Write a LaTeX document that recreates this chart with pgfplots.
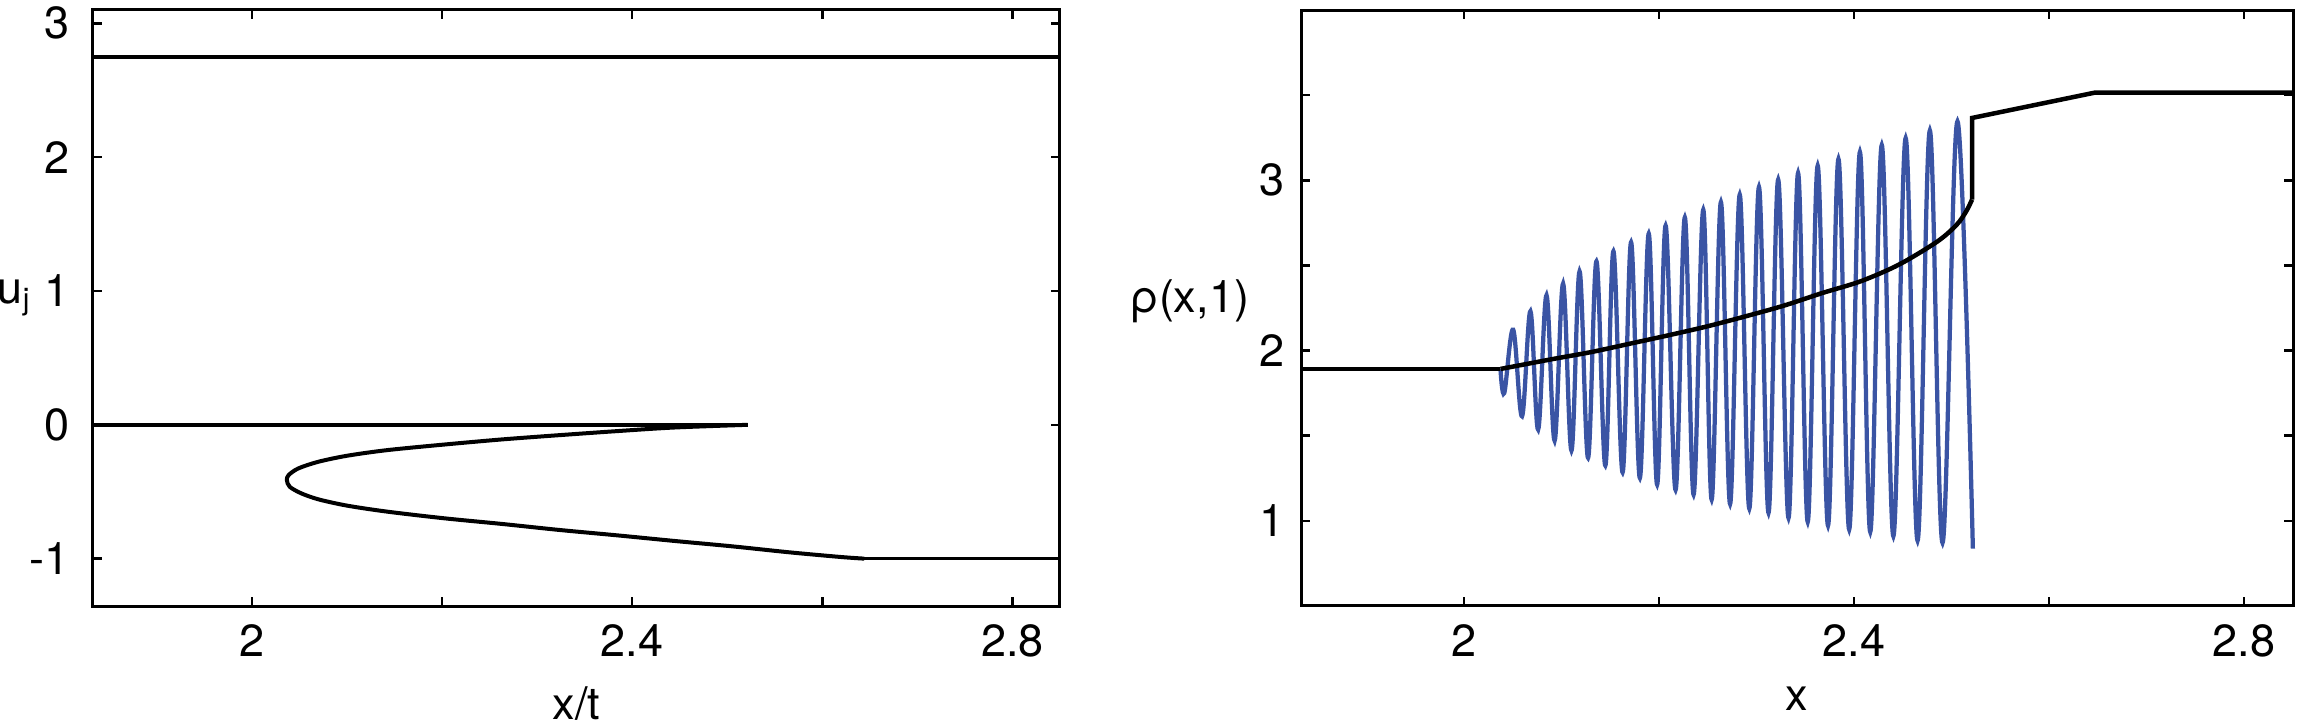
\documentclass[border=0pt]{standalone}
\usepackage{fontspec}
\setmainfont{TeX Gyre Heros}
\usepackage{pgfplots}
\pgfplotsset{compat=1.18}
\definecolor{oscblue}{HTML}{3A54A4}

\pgfplotsset{
  mat/.style={
    scale only axis, height=119.2pt,
    xmin=1.833, xmax=2.85,
    xtick={2,2.2,2.4,2.6,2.8}, xticklabels={2,,2.4,,2.8},
    tick align=inside, major tick length=1.8pt,
    axis line style={line width=0.6pt},
    every tick/.style={black, line width=0.5pt},
    every axis x label/.style={at={(rel axis cs:0.5,0)}, anchor=north, inner sep=0pt, yshift=-16pt},
    xticklabel style={yshift=-0.6pt},
  }
}

\begin{document}
\fontsize{9}{10.8}\selectfont
\begin{tikzpicture}
\path[use as bounding box] (-18.6pt,-23.4pt) rectangle (442.2pt,121.2pt);

% left: u_j against x/t
\begin{axis}[mat, at={(0pt,0pt)}, anchor=south west, width=193.4pt,
  ymin=-1.354, ymax=3.1,
  ytick={-1,0,1,2,3}, yticklabels={-1,0,1,2,3},
  yticklabel style={xshift=-1.5pt},
  xlabel={x/t}, ylabel={u\textsubscript{j}},
  every axis y label/.style={at={(rel axis cs:0,0.507)}, anchor=base east, inner sep=0pt, xshift=-12pt},
]
\addplot[black, line width=0.9pt] coordinates {(1.833,2.75) (2.85,2.75)};
\addplot[black, line width=0.7pt] coordinates {(1.833,0) (2.5215,0)};
\addplot[black, line width=0.8pt, smooth] coordinates {
  (2.5215,0) (2.4447,-0.020) (2.3843,-0.047) (2.3239,-0.077) (2.2634,-0.109)
  (2.2030,-0.147) (2.1426,-0.189) (2.1003,-0.231) (2.0701,-0.276) (2.0489,-0.326)
  (2.0387,-0.376) (2.0369,-0.413) (2.0399,-0.463) (2.0520,-0.512) (2.0701,-0.557)
  (2.1003,-0.604) (2.1426,-0.649) (2.2030,-0.699) (2.2634,-0.741) (2.3239,-0.786)
  (2.3843,-0.826) (2.4447,-0.868) (2.5051,-0.908) (2.5656,-0.953) (2.6199,-0.988)
  (2.6441,-1.0)};
\addplot[black, line width=0.7pt] coordinates {(2.6441,-1) (2.85,-1)};
\end{axis}

% right: rho(x,1)
\begin{axis}[mat, at={(241.6pt,0pt)}, anchor=south west, width=198.4pt,
  ymin=0.5, ymax=4,
  ytick={1,1.5,2,2.5,3,3.5}, yticklabels={1,,2,,3,},
  xlabel={x}, ylabel={ρ(x,1)},
  every axis y label/.style={at={(rel axis cs:0,0.493)}, anchor=base east, inner sep=0pt, xshift=-10.2pt},
]
\addplot[oscblue, line width=0.85pt, smooth, tension=0.6] coordinates {
  (2.0375,1.892) (2.0414,1.751) (2.0505,2.123) (2.0596,1.614) (2.0682,2.231)
  (2.0761,1.536) (2.0847,2.325) (2.0930,1.471) (2.1017,2.393) (2.1103,1.413)
  (2.1186,2.465) (2.1273,1.370) (2.1359,2.524) (2.1450,1.325) (2.1533,2.583)
  (2.1627,1.285) (2.1714,2.636) (2.1804,1.252) (2.1895,2.687) (2.1981,1.213)
  (2.2068,2.734) (2.2170,1.182) (2.2265,2.782) (2.2355,1.154) (2.2454,2.827)
  (2.2540,1.125) (2.2635,2.872) (2.2729,1.099) (2.2828,2.916) (2.2926,1.072)
  (2.3025,2.961) (2.3123,1.047) (2.3222,3.004) (2.3328,1.017) (2.3426,3.043)
  (2.3525,0.994) (2.3627,3.086) (2.3733,0.972) (2.3840,3.125) (2.3950,0.949)
  (2.4060,3.166) (2.4166,0.935) (2.4284,3.207) (2.4403,0.910) (2.4529,3.248)
  (2.4651,0.884) (2.4777,3.293) (2.4907,0.871) (2.5060,3.346) (2.5218,0.837)};
\addplot[black, line width=0.9pt] coordinates {(1.833,1.892) (2.0375,1.892)};
\addplot[black, line width=0.9pt, smooth] coordinates {
  (2.0375,1.892) (2.0918,1.951) (2.1312,1.992) (2.1706,2.041) (2.2099,2.090)
  (2.2493,2.142) (2.2887,2.201) (2.3281,2.264) (2.3674,2.338) (2.4068,2.407)
  (2.4461,2.505) (2.4855,2.641) (2.5052,2.739) (2.5150,2.818) (2.5209,2.886)};
\addplot[black, line width=0.9pt] coordinates {
  (2.5209,2.886) (2.5209,3.366) (2.647,3.515) (2.85,3.515)};
\end{axis}
\end{tikzpicture}
\end{document}
